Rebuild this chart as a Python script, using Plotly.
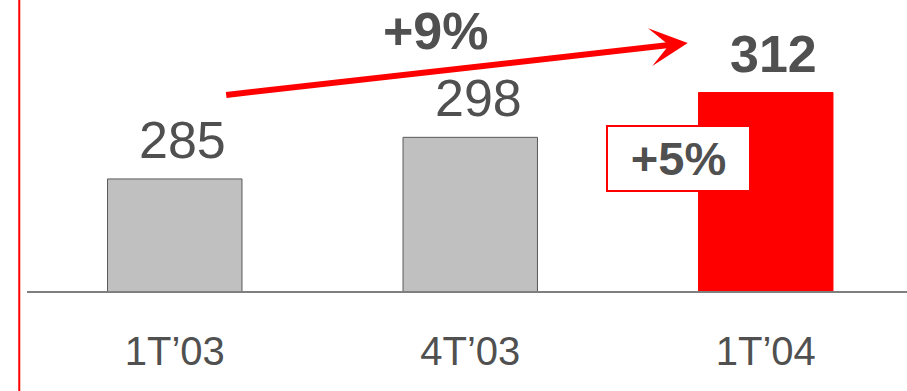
import plotly.graph_objects as go

# data
periods = ["1T\u201903", "4T\u201903", "1T\u201904"]
volumes = [285, 298, 312]
bar_colors = ["#C0C0C0", "#C0C0C0", "#FF0000"]
line_colors = ["#595959", "#595959", "#FF0000"]
growth_total = "+9%"
growth_quarter = "+5%"

text_gray = "#505050"
font_name = "Liberation Sans, Arial, sans-serif"

fig = go.Figure()

fig.add_trace(go.Bar(
    x = periods,
    y = volumes,
    marker = dict(color = bar_colors, line = dict(color = line_colors, width = 1)),
    width = 0.455,
    hoverinfo = "skip")
)

# value labels above bars (last one bold)
for i, (p, v) in enumerate(zip(periods, volumes)):
    last = i == len(volumes) - 1
    fig.add_annotation(
        x = p, y = v, xref = "x", yref = "y",
        text = "<b>%d</b>" % v if last else str(v),
        showarrow = False,
        yanchor = "bottom",
        yshift = 8,
        xshift = 8,
        font = dict(family = font_name, size = 52, color = text_gray)
    )

# growth arrow across the chart
fig.add_annotation(
    x = 1.736, y = 327.5, xref = "x", yref = "y",
    ax = 0.169, ay = 311.2, axref = "x", ayref = "y",
    text = "", showarrow = True,
    arrowhead = 3, arrowsize = 1.05, arrowwidth = 6, arrowcolor = "#FF0000"
)
fig.add_annotation(
    x = 0.883, y = 330.6, xref = "x", yref = "y",
    text = "<b>%s</b>" % growth_total, showarrow = False,
    yshift = 2,
    font = dict(family = font_name, size = 52, color = text_gray)
)

# quarter growth box
fig.add_annotation(
    x = 1.704, y = 291.4, xref = "x", yref = "y",
    text = "<b>%s</b>" % growth_quarter, showarrow = False,
    width = 141, height = 63, borderpad = 0,
    bgcolor = "white", bordercolor = "#FF0000", borderwidth = 2,
    font = dict(family = font_name, size = 47, color = text_gray)
)

# red vertical rule on the left
fig.add_shape(
    type = "line", xref = "paper", yref = "paper",
    x0 = -0.0088, x1 = -0.0088, y0 = -0.35, y1 = 1.01,
    line = dict(color = "#FF0000", width = 2)
)

fig.update_layout(
    width = 907, height = 391,
    margin = dict(l = 27, r = 0, t = 0, b = 100),
    plot_bgcolor = "white", paper_bgcolor = "white",
    showlegend = False,
    font = dict(family = font_name, color = text_gray),
    xaxis = dict(
        range = [-0.5, 2.478],
        showline = True, linecolor = "#7F7F7F", linewidth = 2,
        showgrid = False, zeroline = False,
        ticks = "outside", ticklen = 24, tickcolor = "rgba(0,0,0,0)",
        tickfont = dict(family = font_name, size = 40, color = text_gray),
        automargin = False
    ),
    yaxis = dict(
        range = [250, 340.9],
        visible = False
    )
)

# drop the browser's default page margin so the chart sits at the corner
fig.write_html("out.html", config = {"displayModeBar": False},
               post_script = "document.body.style.margin = '0';")
